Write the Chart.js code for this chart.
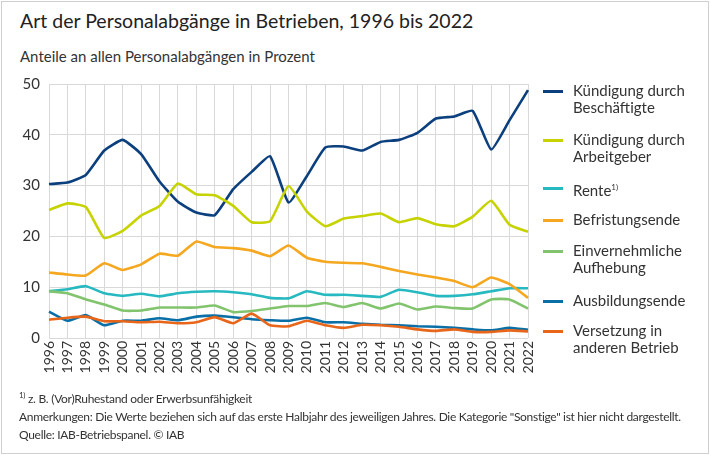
<!DOCTYPE html>
<html>
<head>
<meta charset="utf-8">
<script src="https://cdn.jsdelivr.net/npm/chart.js@4"></script>
<style>
  body { margin: 0; width: 710px; height: 455px; position: relative; background: #fff; font-family: Lato, sans-serif; color: #333; overflow: hidden; }
  #frame { position: absolute; left: 1px; top: 1px; width: 706px; height: 451px; border: 1px solid #cfcfcf; }
  #title { position: absolute; left: 20px; top: 9px; font-size: 19.5px; color: #222; white-space: nowrap; }
  #subtitle { position: absolute; left: 20px; top: 47px; font-size: 15px; color: #333; white-space: nowrap; }
  #chart { position: absolute; left: 0; top: 0; }
  #legend { position: absolute; left: 543px; top: 0; width: 160px; }
  .item { position: absolute; left: 0; font-size: 15px; line-height: 17px; color: #333; }
  .item .sw { position: absolute; left: 0; width: 20px; height: 3px; }
  .item .tx { position: absolute; left: 30px; white-space: nowrap; }
  #notes { position: absolute; left: 19px; top: 386px; font-size: 12px; line-height: 18px; letter-spacing: -0.3px; color: #333; white-space: nowrap; }
  sup { font-size: 8px; }
</style>
</head>
<body>
<div id="frame"></div>
<div id="title">Art der Personalabgänge in Betrieben, 1996 bis 2022</div>
<div id="subtitle">Anteile an allen Personalabgängen in Prozent</div>
<canvas id="chart" width="710" height="455"></canvas>
<div id="legend"></div>
<div id="notes">
  <div><sup>1)</sup> z. B. (Vor)Ruhestand oder Erwerbsunfähigkeit</div>
  <div>Anmerkungen: Die Werte beziehen sich auf das erste Halbjahr des jeweiligen Jahres. Die Kategorie "Sonstige" ist hier nicht dargestellt.</div>
  <div>Quelle: IAB-Betriebspanel. © IAB</div>
</div>
<script>
const years = ['1996', '1997', '1998', '1999', '2000', '2001', '2002', '2003', '2004', '2005', '2006', '2007', '2008',
  '2009', '2010', '2011', '2012', '2013', '2014', '2015', '2016', '2017', '2018', '2019', '2020', '2021', '2022'];

const kuendigungBeschaeftigte = [30.3, 30.6, 32.1, 36.9, 39.0, 36.2, 30.8, 26.8, 24.7, 24.2, 29.3, 32.7, 35.8,
  26.7, 31.9, 37.5, 37.7, 36.9, 38.6, 39.0, 40.4, 43.2, 43.6, 44.7, 37.1, 42.9, 48.8];
const kuendigungArbeitgeber = [25.2, 26.5, 25.8, 19.7, 21.1, 24.1, 26.0, 30.4, 28.3, 28.1, 26.0, 22.8, 23.0,
  29.9, 24.9, 22.0, 23.5, 24.0, 24.5, 22.8, 23.6, 22.4, 22.0, 23.9, 27.0, 22.3, 20.9];
const rente = [9.2, 9.6, 10.2, 8.8, 8.3, 8.7, 8.2, 8.8, 9.1, 9.2, 9.0, 8.6, 7.9,
  7.8, 9.2, 8.5, 8.5, 8.3, 8.1, 9.5, 9.0, 8.3, 8.3, 8.6, 9.2, 9.8, 9.8];
const befristungsende = [12.9, 12.5, 12.3, 14.7, 13.4, 14.5, 16.6, 16.2, 19.0, 17.9, 17.7, 17.2, 16.1,
  18.2, 15.8, 15.0, 14.8, 14.7, 14.0, 13.2, 12.5, 11.9, 11.2, 10.0, 11.9, 10.6, 7.9];
const einvernehmlich = [9.2, 8.8, 7.6, 6.6, 5.4, 5.4, 6.0, 6.0, 6.0, 6.4, 5.1, 5.3, 5.8,
  6.3, 6.3, 6.9, 6.1, 6.9, 5.8, 6.8, 5.6, 6.2, 5.9, 5.8, 7.6, 7.6, 5.8];
const ausbildungsende = [5.2, 3.4, 4.5, 2.5, 3.4, 3.4, 3.9, 3.5, 4.2, 4.4, 4.1, 3.7, 3.5,
  3.4, 4.0, 3.1, 3.1, 2.8, 2.6, 2.5, 2.3, 2.2, 2.0, 1.7, 1.5, 2.0, 1.6];
const versetzung = [3.6, 4.0, 4.2, 3.3, 3.3, 3.1, 3.2, 2.9, 3.1, 4.1, 2.9, 4.8, 2.5,
  2.3, 3.4, 2.5, 2.0, 2.6, 2.5, 2.2, 1.7, 1.4, 1.7, 1.2, 1.2, 1.5, 1.3];

const yTicks = [0, 10, 20, 30, 40, 50];

// Legend texts (line breaks as in the original) and their vertical centres
const series = [
  { label: ['Kündigung durch', 'Beschäftigte'], data: kuendigungBeschaeftigte, color: '#0b3f7d', y: 91 },
  { label: ['Kündigung durch', 'Arbeitgeber'], data: kuendigungArbeitgeber, color: '#c6d300', y: 140 },
  { label: ['Rente<sup>1)</sup>'], data: rente, color: '#27b9c0', y: 188 },
  { label: ['Befristungsende'], data: befristungsende, color: '#f4a71f', y: 220 },
  { label: ['Einvernehmliche', 'Aufhebung'], data: einvernehmlich, color: '#82c46e', y: 251 },
  { label: ['Ausbildungsende'], data: ausbildungsende, color: '#0a6fa6', y: 301 },
  { label: ['Versetzung in', 'anderen Betrieb'], data: versetzung, color: '#e8661a', y: 331 }
];

const legend = document.getElementById('legend');
series.forEach(s => {
  const item = document.createElement('div');
  item.className = 'item';
  item.style.top = s.y + 'px';
  item.innerHTML = '<div class="sw" style="top:-1px;background:' + s.color + '"></div>' +
    '<div class="tx" style="top:-9px">' + s.label.join('<br>') + '</div>';
  legend.appendChild(item);
});

new Chart(document.getElementById('chart'), {
  type: 'line',
  data: {
    labels: years,
    datasets: series.slice().reverse().map(s => ({
      label: s.label.join(' '),
      data: s.data,
      borderColor: s.color,
      borderWidth: 2.6,
      pointRadius: 0,
      tension: 0.15,
      fill: false
    }))
  },
  options: {
    responsive: false,
    animation: false,
    layout: { padding: { left: 0, top: 84, right: 182, bottom: 77 } },
    plugins: { legend: { display: false }, tooltip: { enabled: false } },
    scales: {
      x: {
        grid: { color: '#d9d9d9', drawTicks: false },
        border: { display: false },
        ticks: { color: '#333', font: { family: 'Lato', size: 14 }, minRotation: 90, maxRotation: 90, padding: 3, autoSkip: false },
        afterFit: s => { s.height = 40; }
      },
      y: {
        min: 0,
        max: 50,
        afterBuildTicks: s => { s.ticks = yTicks.map(v => ({ value: v })); },
        grid: { color: '#d9d9d9', drawTicks: false },
        border: { display: false },
        ticks: { color: '#333', font: { family: 'Lato', size: 15 }, padding: 9 },
        afterFit: s => { s.width = 49; }
      }
    }
  }
});
</script>
</body>
</html>
